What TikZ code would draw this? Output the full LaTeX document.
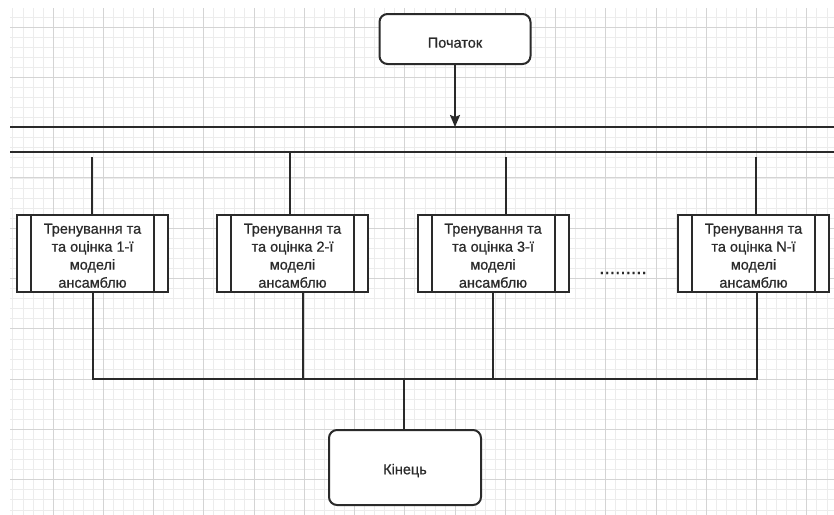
\documentclass[tikz,border=0pt]{standalone}
\usepackage{fontspec}
\setmainfont{Liberation Sans}
\newfontfamily\dfont{Liberation Sans}[FakeBold=0.7]
\usetikzlibrary{arrows.meta}
\definecolor{gmaj}{HTML}{D4D4D4}
\definecolor{gmin}{HTML}{ECECEC}
\definecolor{ink}{HTML}{2A2A2A}
\tikzset{
  term/.style={draw=ink, line width=2pt, rounded corners=8pt, fill=white,
    minimum width=151pt, text=ink, font=\dfont\fontsize{14.5}{18}\selectfont},
  procbox/.style={draw=ink, line width=2pt, fill=white, minimum width=151pt,
    minimum height=77pt, inner sep=0pt, align=center, text=ink,
    font=\dfont\fontsize{14.5}{18}\selectfont},
  conn/.style={draw=ink, line width=2pt},
  busline/.style={draw=ink, line width=2.6pt},
}
\newcommand{\sidebars}[1]{%
  \draw[ink, line width=2pt] ([xshift=15pt]#1.north west) -- ([xshift=15pt]#1.south west);
  \draw[ink, line width=2pt] ([xshift=-15pt]#1.north east) -- ([xshift=-15pt]#1.south east);}
\begin{document}
\begin{tikzpicture}[x=1pt,y=-1pt]
\useasboundingbox (0,0) rectangle (834,514);
\fill[white] (0,0) rectangle (834,514);
% grid
\begin{scope}
\clip (10,8) rectangle (834,514);
\foreach \i in {-1,...,84} \draw[gmin, line width=0.7pt] ({2.75+10.05*\i},0) -- ++(0,520);
\foreach \j in {-3,...,50} \draw[gmin, line width=0.7pt] (0,{27+10.06*\j}) -- ++(840,0);
\foreach \i in {0,...,17} \draw[gmaj, line width=1pt] ({2.75+50.25*\i},0) -- ++(0,520);
\foreach \j in {-1,...,10} \draw[gmaj, line width=1pt] (0,{27+50.3*\j}) -- ++(840,0);
\end{scope}
% start
\node[term, minimum height=50pt] (start) at (455,39) {\rule{0pt}{17.5pt}Початок};
% buses
\coordinate (a1) at (10,127); \coordinate (a2) at (834,127);
\coordinate (c1) at (10,152); \coordinate (c2) at (834,152);
\draw[busline] (a1) -- (a2);
\draw[busline] (c1) -- (c2);
\draw[draw=ink, line width=2pt, -{Stealth[length=12pt,width=10pt,inset=2pt]}] (start.south) -- (start.south |- a1);
% process boxes
\node[procbox] (b1) at (92.5,253.5) {\rule{0pt}{14.5pt}Тренування та\\та оцінка 1-ї\\моделі\\ансамблю};
\node[procbox] (b2) at (292.5,253.5) {\rule{0pt}{14.5pt}Тренування та\\та оцінка 2-ї\\моделі\\ансамблю};
\node[procbox] (b3) at (493,253.5) {\rule{0pt}{14.5pt}Тренування та\\та оцінка 3-ї\\моделі\\ансамблю};
\node[procbox] (b4) at (753.5,253.5) {\rule{0pt}{14.5pt}Тренування та\\та оцінка N-ї\\моделі\\ансамблю};
\sidebars{b1}\sidebars{b2}\sidebars{b3}\sidebars{b4}
\node[text=ink, font=\dfont\fontsize{19}{19}\selectfont] (dots) at (623,273) {.........};
% top connectors
\coordinate (u1) at (92,157); \coordinate (u2) at (290,153);
\coordinate (u3) at (506,157); \coordinate (u4) at (756,157);
\draw[conn] (u1) -- (u1 |- b1.north);
\draw[conn] (u2) -- (u2 |- b2.north);
\draw[conn] (u3) -- (u3 |- b3.north);
\draw[conn] (u4) -- (u4 |- b4.north);
% end
\node[term, minimum width=152pt, minimum height=75pt] (end) at (405,467.5) {\rule{0pt}{16.5pt}Кінець};
% bottom bus
\coordinate (d1) at (93,379); \coordinate (d2) at (303,379);
\coordinate (d3) at (493,379); \coordinate (d4) at (757,379);
\coordinate (dm) at (404,379);
\draw[conn] (d2 |- b2.south) -- (d2);
\draw[conn] (d3 |- b3.south) -- (d3);
\draw[conn] (d1 |- b1.south) -- (d1) -- (d4) -- (d4 |- b4.south);
\draw[conn] (dm) -- (dm |- end.north);
\end{tikzpicture}
\end{document}
